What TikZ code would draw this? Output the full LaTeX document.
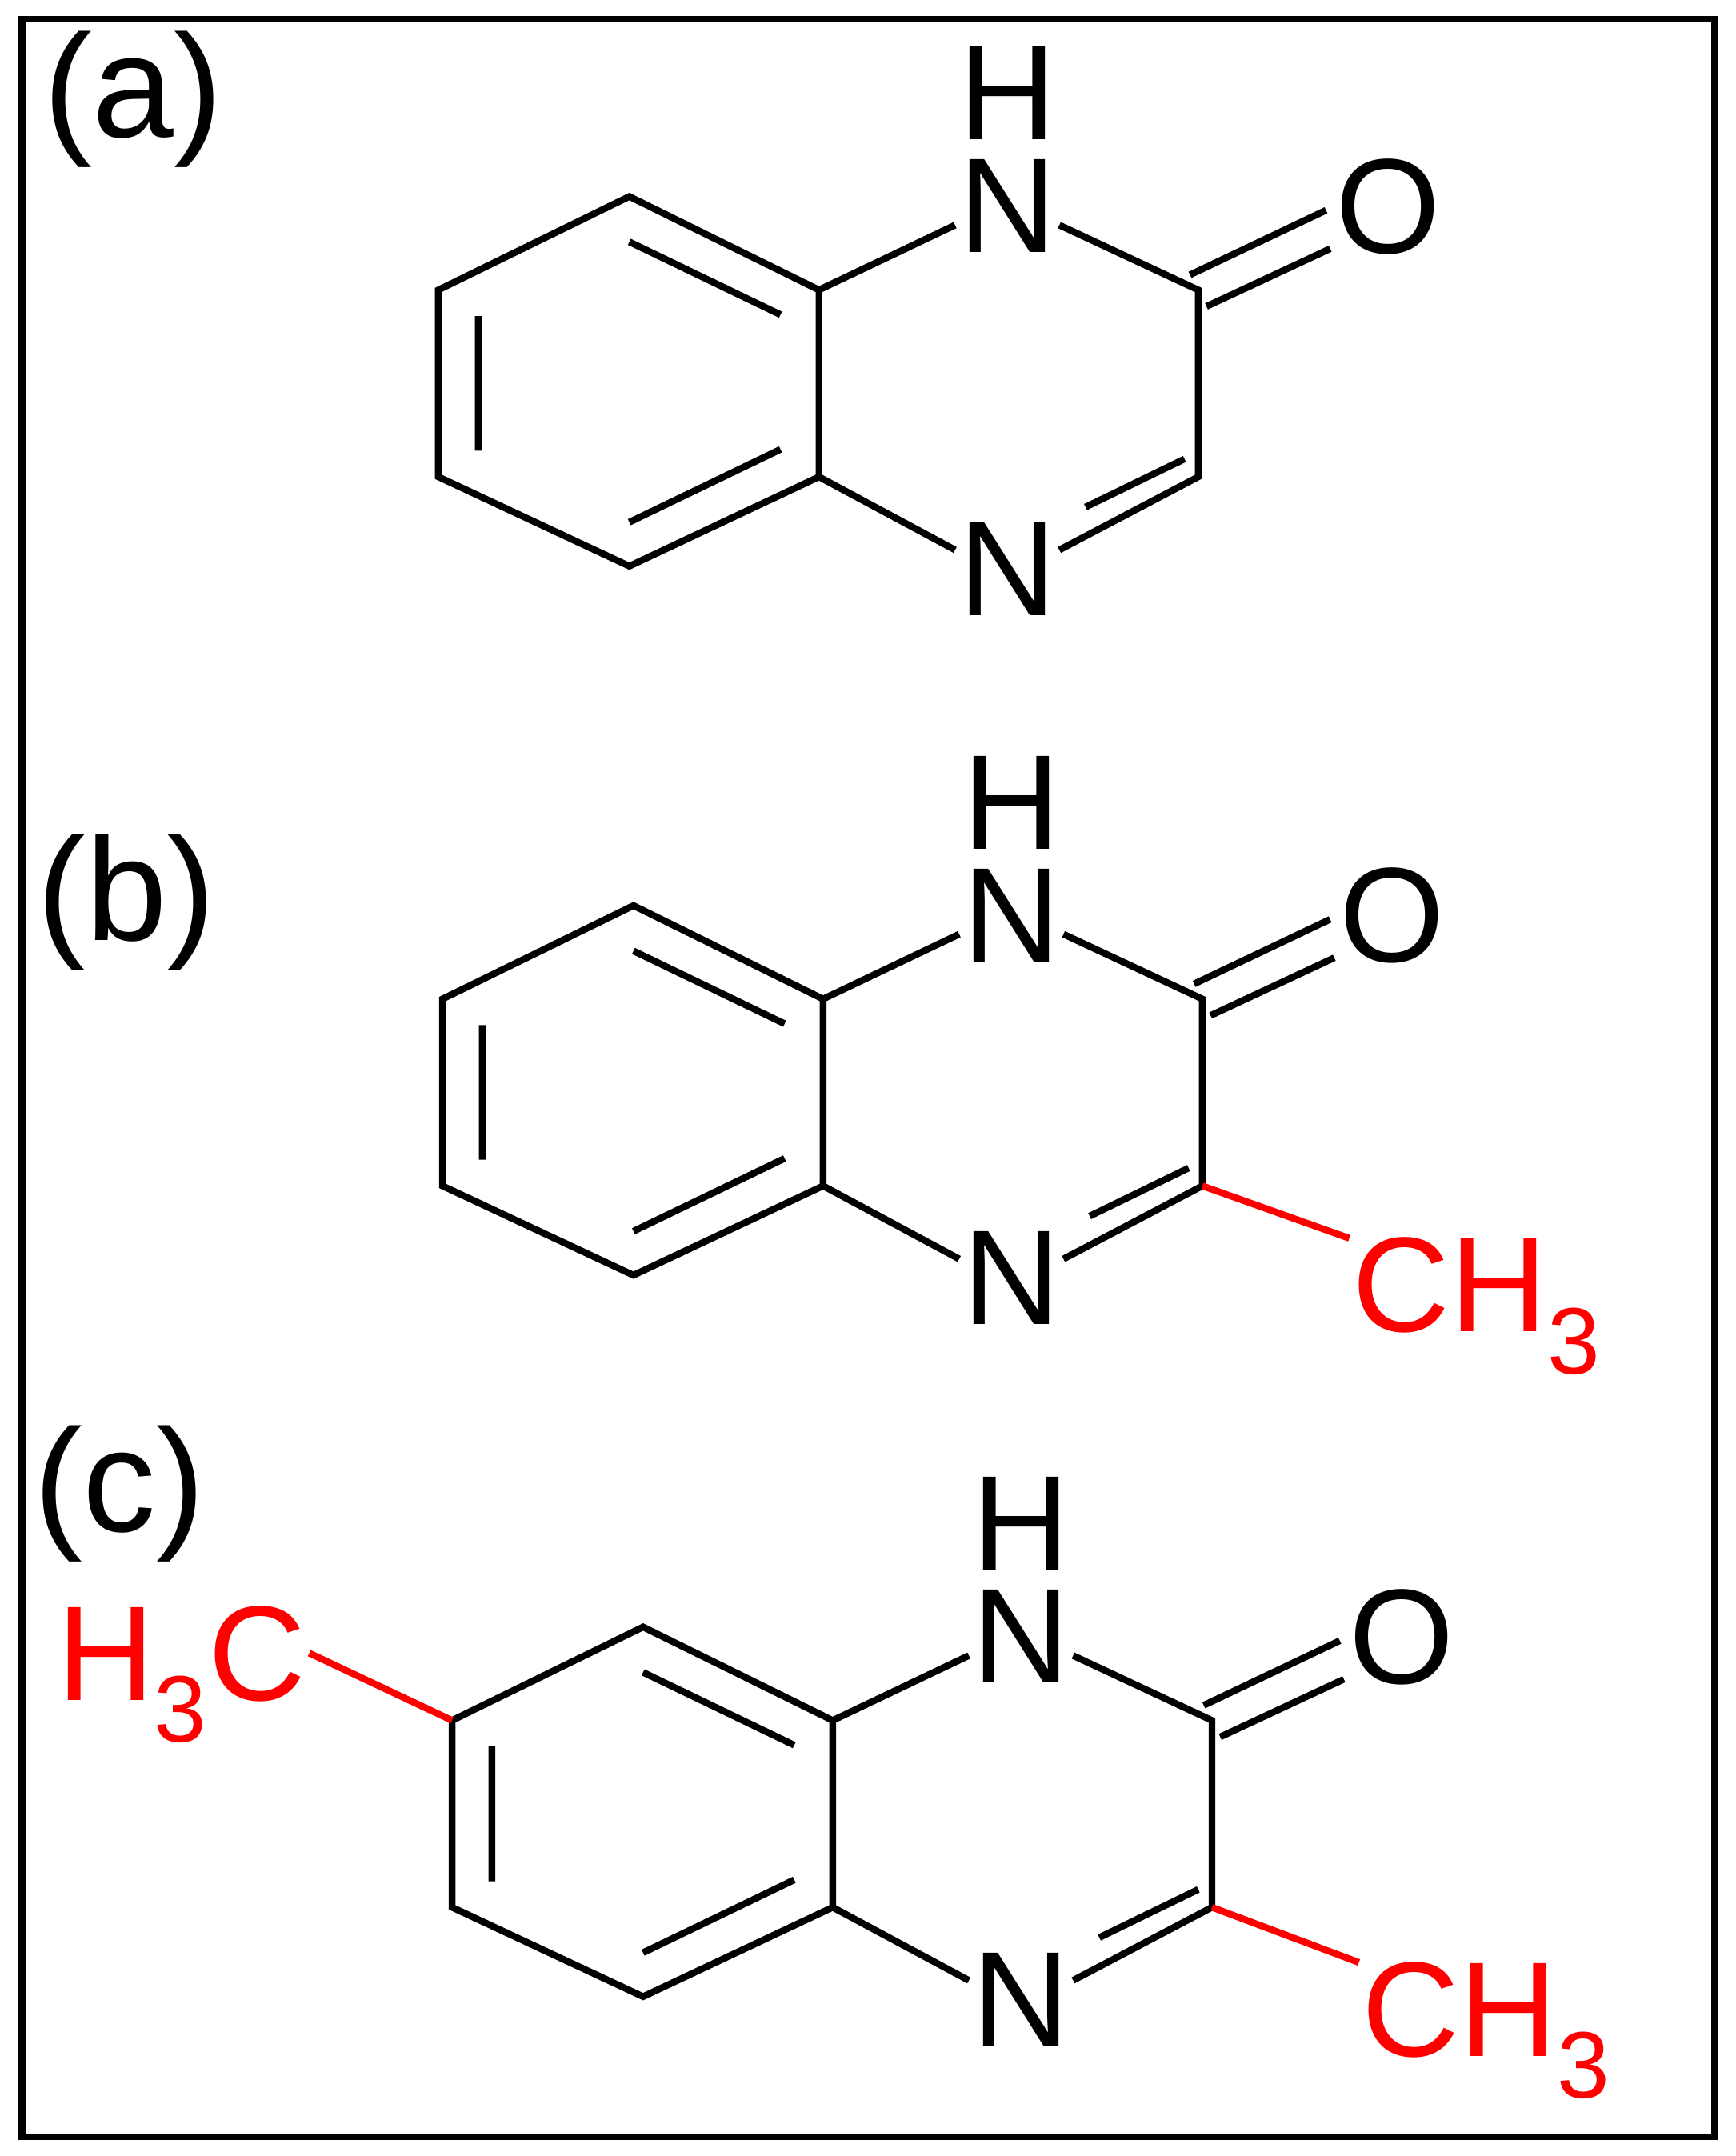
\documentclass[tikz,border=0pt]{standalone}
\usepackage{fontspec}
\setmainfont{Liberation Sans}
\tikzset{bond/.style={line width=2.4pt},
 atom/.style={inner sep=1pt,text depth=0pt,font=\fontsize{48}{52}\selectfont},
 lbl/.style={inner sep=0pt,font=\fontsize{52}{56}\selectfont},
 red bond/.style={bond,draw=red}}
\newcommand\quinox[3]{%
\begin{scope}[shift={(#2,#3)}]
\coordinate (#1c4a) at (596,347); \coordinate (#1c8a) at (596,211);
\coordinate (#1c5) at (458,412); \coordinate (#1c6) at (319,347);
\coordinate (#1c7) at (319,211); \coordinate (#1c8) at (458,143);
\coordinate (#1c2) at (872,211); \coordinate (#1c3) at (872,347);
\node[atom] (#1N1) at (733,150) {N};
\node[atom,inner sep=0pt,text height=33pt] (#1H) at (733,68) {H};
\node[atom] (#1N4) at (733,414) {N};
\node[atom] (#1O) at (1010,150) {O};
\draw[bond] (#1c8a)--(#1c8)--(#1c7)--(#1c6)--(#1c5)--(#1c4a)--cycle;
\draw[bond] (#1c8a)--(#1N1.200) (#1N1.340)--(#1c2)--(#1c3)--(#1N4.20) (#1N4.160)--(#1c4a);
\draw[bond] (458,176)--(568,229) (348,230)--(348,328) (458,380)--(568,327);
\draw[bond] (866,200)--(965,153) (878,223)--(968,181);
\draw[bond] (862,334)--(790,369);
\end{scope}}
\begin{document}
\begin{tikzpicture}[x=0.01716cm,y=-0.01716cm]
\useasboundingbox (0,0) rectangle (1263,1569);
\draw[line width=2.4pt] (16,14) rectangle (1248,1555);
\node[lbl] (la) at (97,72) {(a)};
\node[lbl] (lb) at (92,657) {(b)};
\node[lbl] (lc) at (87,1087) {(c)};
\quinox{a}{0}{0}
\quinox{b}{3}{516}
\quinox{c}{10}{1041}
\node[atom,text=red] (bme) at (1075,935) {CH\textsubscript{3}};
\draw[red bond] (bc3) -- (bme.160);
\node[atom,text=red] (cme) at (1082,1462) {CH\textsubscript{3}};
\draw[red bond] (cc3) -- (cme.160);
\node[atom,text=red] (cme2) at (132,1203) {H\textsubscript{3}C};
\draw[red bond] (cc7) -- (cme2.east);
\end{tikzpicture}
\end{document}
